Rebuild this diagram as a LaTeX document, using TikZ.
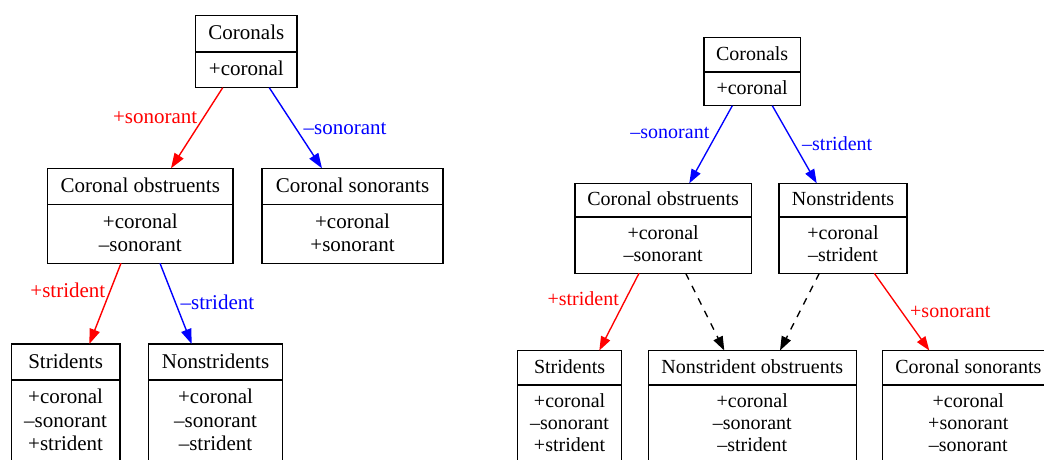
\documentclass[tikz,border=0pt]{standalone}
\usepackage{fontspec}
\setmainfont{Liberation Serif}
\newfontfamily\timesfam{Liberation Serif}
\usetikzlibrary{arrows.meta}
\tikzset{
  featrect/.style={draw, line width=1.4pt, inner sep=0pt, outer sep=0pt},
  fline/.style={line width=1.4pt},
  edgeL/.style={line width=1.4pt, -{Triangle[length=15pt,width=10.5pt]}},
  edgeR/.style={line width=1.35pt, -{Triangle[length=14pt,width=10pt]}},
  lab/.style={inner sep=0pt},
  dashedge/.style={dash pattern=on 7pt off 7pt},
}
% #1 name, #2 centre x, #3 top y, #4 width, #5 header height, #6 total height, #7 header, #8 lines
\newcommand{\featbox}[8]{%
  \node[featrect, minimum width=#4pt, minimum height=#6pt, anchor=north] (#1) at (#2,#3) {};
  \draw[fline] ([yshift=-#5pt]#1.north west) -- ([yshift=-#5pt]#1.north east);
  \node[lab, anchor=base] (#1-h) at ([yshift={-(#5*0.5+\hoff)*1pt}]#1.north) {#7};
  \foreach \featline [count=\i from 0] in {#8} {
    \node[lab, anchor=base] (#1-l\i) at ([yshift={-(#5+\boff+\i*\lsp)*1pt}]#1.north) {\featline};
  }%
}
\begin{document}
\begin{tikzpicture}[x=1pt,y=-1pt]
\useasboundingbox (0,0) rectangle (1044,459);
\clip (0,0) rectangle (1044,459);
% ---------------- left diagram ----------------
\begin{scope}[font=\timesfam\fontsize{21}{25}\selectfont]
\def\hoff{6}\def\boff{23.8}\def\lsp{23.3}
\featbox{L1}{246.35}{15.7}{101.3}{36.3}{72}{Coronals}{+coronal}
\featbox{L2}{140.35}{168.3}{185.3}{36.4}{95}{Coronal obstruents}{+coronal,–sonorant}
\featbox{L3}{352.5}{168.3}{181}{36.4}{95}{Coronal sonorants}{+coronal,+sonorant}
\featbox{L4}{65.65}{344}{108.7}{36}{122}{Stridents}{+coronal,–sonorant,+strident}
\featbox{L5}{215.5}{344}{134.4}{36}{122}{Nonstridents}{+coronal,–sonorant,–strident}

\draw[edgeL, red] ([xshift=-23.65pt]L1.south) -- ([xshift=30.65pt]L2.north);
\draw[edgeL, blue] ([xshift=22.95pt]L1.south) -- ([xshift=-30.5pt]L3.north);
\draw[edgeL, red] ([xshift=-19.35pt]L2.south) -- ([xshift=23.65pt]L4.north);
\draw[edgeL, blue] ([xshift=19.65pt]L2.south) -- ([xshift=-23.8pt]L5.north);

\node[lab, red, anchor=base east] (L12lab) at (197.5,123.3) {+sonorant};
\node[lab, blue, anchor=base west] (L13lab) at (303.5,134.3) {–sonorant};
\node[lab, red, anchor=base east] (L24lab) at (105.5,297.3) {+strident};
\node[lab, blue, anchor=base west] (L25lab) at (180.5,309.3) {–strident};
\end{scope}
% ---------------- right diagram ----------------
\begin{scope}[font=\timesfam\fontsize{20}{24}\selectfont]
\def\hoff{5.6}\def\boff{22.8}\def\lsp{22}
\featbox{R1}{752.15}{37.7}{96.3}{34.3}{68}{Coronals}{+coronal}
\featbox{R2}{663.15}{183.3}{176.3}{33.7}{90}{Coronal obstruents}{+coronal,–sonorant}
\featbox{R3}{843}{183.3}{128}{33.7}{90}{Nonstridents}{+coronal,–strident}
\featbox{R4}{569.6}{350.5}{104.2}{34.3}{120}{Stridents}{+coronal,–sonorant,+strident}
\featbox{R5}{752.25}{350.5}{207.9}{34.3}{120}{Nonstrident obstruents}{+coronal,–sonorant,–strident}
\featbox{R6}{968.3}{350.5}{171.2}{34.3}{120}{Coronal sonorants}{+coronal,+sonorant,–sonorant}

\draw[edgeR, blue] ([xshift=-19.85pt]R1.south) -- ([xshift=26.15pt]R2.north);
\draw[edgeR, blue] ([xshift=20.15pt]R1.south) -- ([xshift=-26.3pt]R3.north);
\draw[edgeR, red] ([xshift=-24.15pt]R2.south) -- ([xshift=29.7pt]R4.north);
\draw[edgeR, dashedge] ([xshift=22.55pt]R2.south) -- ([xshift=-27.95pt]R5.north);
\draw[edgeR, dashedge] ([xshift=-23.7pt]R3.south) -- ([xshift=27.75pt]R5.north);
\draw[edgeR, red] ([xshift=31.3pt]R3.south) -- ([xshift=-39pt]R6.north);

\node[lab, blue, anchor=base east] (R12lab) at (709.5,138.3) {–sonorant};
\node[lab, blue, anchor=base west] (R13lab) at (802,150) {–strident};
\node[lab, red, anchor=base east] (R24lab) at (619,305.8) {+strident};
\node[lab, red, anchor=base west] (R36lab) at (910,317.3) {+sonorant};
\end{scope}
\end{tikzpicture}
\end{document}
